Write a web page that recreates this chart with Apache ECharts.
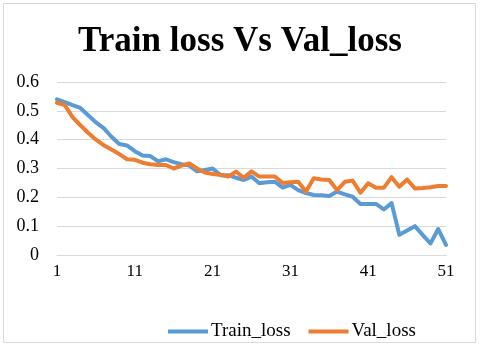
<!DOCTYPE html>
<html>
<head>
<meta charset="utf-8">
<script src="https://cdn.jsdelivr.net/npm/echarts@6/dist/echarts.min.js"></script>
<style>
    html, body { margin: 0; padding: 0; background: #fff; }
    #lossChart { width: 480px; height: 348px; }
</style>
</head>
<body>
<div id="lossChart"></div>
<script>
var epochs = ['1', '2', '3', '4', '5', '6', '7', '8', '9', '10',
    '11', '12', '13', '14', '15', '16', '17', '18', '19', '20',
    '21', '22', '23', '24', '25', '26', '27', '28', '29', '30',
    '31', '32', '33', '34', '35', '36', '37', '38', '39', '40',
    '41', '42', '43', '44', '45', '46', '47', '48', '49', '50', '51'];

var trainLoss = [0.54, 0.53, 0.52, 0.51, 0.485, 0.46, 0.44, 0.41, 0.385, 0.38,
    0.36, 0.345, 0.343, 0.325, 0.332, 0.322, 0.315, 0.31, 0.29, 0.295,
    0.30, 0.277, 0.277, 0.268, 0.26, 0.272, 0.249, 0.252, 0.254, 0.234,
    0.243, 0.225, 0.215, 0.208, 0.207, 0.205, 0.22, 0.21, 0.202, 0.177,
    0.177, 0.177, 0.158, 0.18, 0.07, 0.085, 0.10, 0.07, 0.04, 0.09, 0.035];

var valLoss = [0.528, 0.52, 0.478, 0.45, 0.424, 0.40, 0.381, 0.366, 0.35, 0.332,
    0.33, 0.32, 0.315, 0.312, 0.312, 0.30, 0.31, 0.318, 0.30, 0.286,
    0.281, 0.278, 0.272, 0.289, 0.268, 0.29, 0.272, 0.272, 0.272, 0.25,
    0.252, 0.254, 0.22, 0.266, 0.262, 0.26, 0.225, 0.254, 0.258, 0.216,
    0.249, 0.233, 0.233, 0.27, 0.237, 0.262, 0.231, 0.232, 0.235, 0.239, 0.239];

var seriesNames = ['Train_loss', 'Val_loss'];

var dom = document.getElementById('lossChart');
var myChart = echarts.init(dom);

var font = '"Liberation Serif", "Times New Roman", serif';

var option = {
    animation: false,
    textStyle: { fontFamily: font },
    title: {
        text: 'Train loss Vs Val_loss',
        left: 'center',
        top: 19,
        textStyle: {
            fontFamily: font,
            fontSize: 35,
            fontWeight: 'bold',
            color: '#000'
        }
    },
    graphic: [
        {
            type: 'rect',
            shape: { x: 3.5, y: 3.5, width: 472, height: 339 },
            style: { fill: 'none', stroke: '#d9d9d9', lineWidth: 1 },
            silent: true
        }
    ],
    legend: {
        data: seriesNames,
        left: 163,
        top: 317,
        icon: 'rect',
        itemWidth: 40,
        itemHeight: 4,
        itemGap: 18,
        textStyle: { fontFamily: font, fontSize: 19, color: '#000', padding: [0, 0, 0, -2] }
    },
    grid: {
        left: 57,
        right: 34,
        top: 82,
        bottom: 93
    },
    xAxis: {
        type: 'category',
        data: epochs,
        boundaryGap: false,
        axisLine: { lineStyle: { color: '#d9d9d9', width: 1 } },
        axisTick: { show: false },
        axisLabel: {
            interval: 9,
            margin: 8,
            fontFamily: font,
            fontSize: 17,
            color: '#000'
        }
    },
    yAxis: {
        type: 'value',
        min: 0,
        max: 0.6,
        interval: 0.1,
        axisLine: { show: false },
        axisTick: { show: false },
        splitLine: { lineStyle: { color: '#d9d9d9', width: 1 } },
        axisLabel: {
            margin: 18,
            fontFamily: font,
            fontSize: 18,
            color: '#000'
        }
    },
    series: [
        {
            name: seriesNames[0],
            type: 'line',
            data: trainLoss,
            showSymbol: false,
            symbol: 'none',
            itemStyle: { color: '#5b9bd5' },
            lineStyle: { color: '#5b9bd5', width: 4, join: 'round', cap: 'round' }
        },
        {
            name: seriesNames[1],
            type: 'line',
            data: valLoss,
            showSymbol: false,
            symbol: 'none',
            itemStyle: { color: '#ed7d31' },
            lineStyle: { color: '#ed7d31', width: 4, join: 'round', cap: 'round' }
        }
    ]
};

if (option && typeof option === 'object') {
    myChart.setOption(option);
    window.addEventListener('resize', function () {
        myChart.resize();
    });
}
</script>
</body>
</html>
